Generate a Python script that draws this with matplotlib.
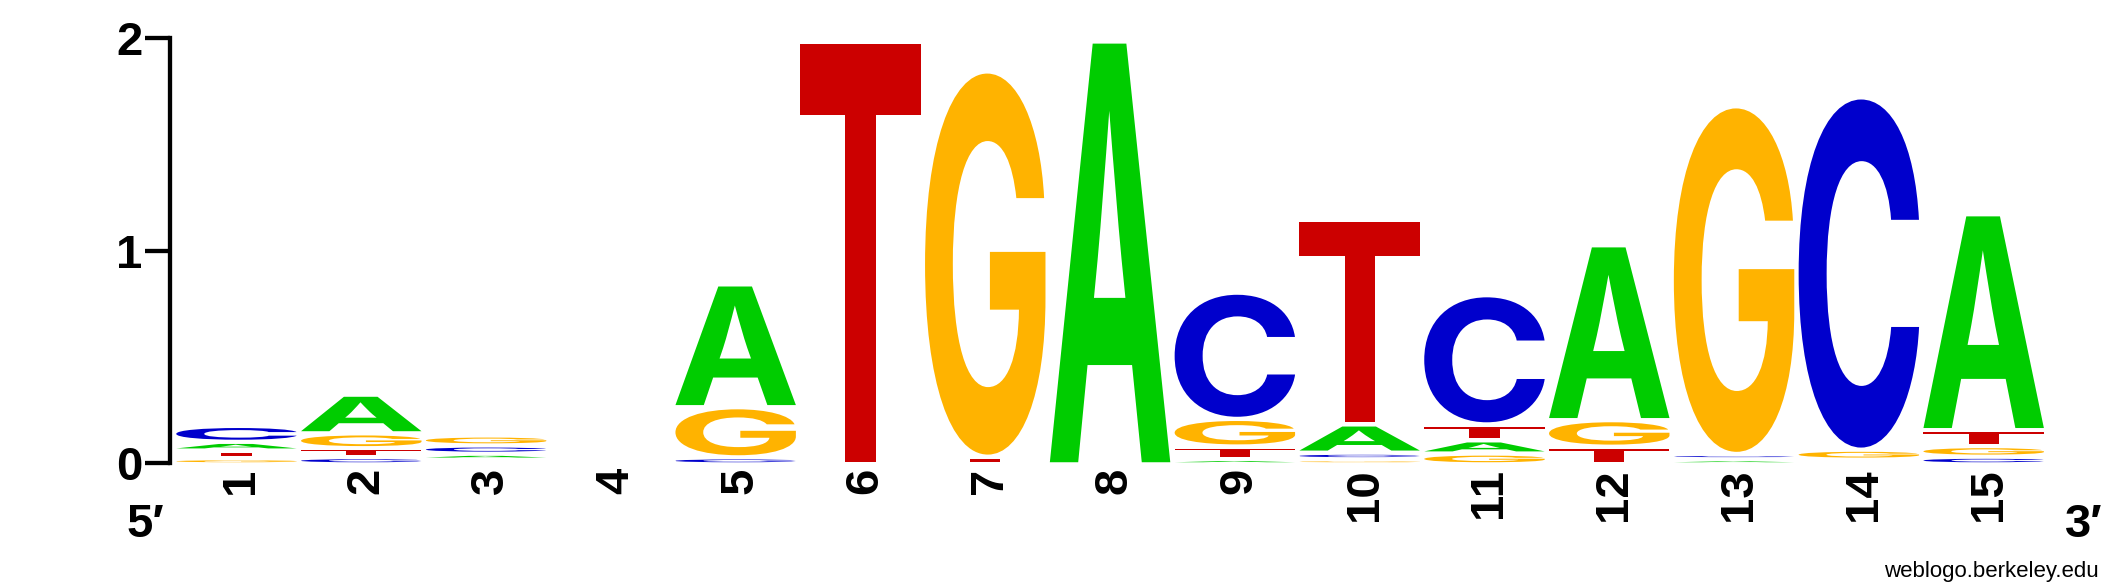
import matplotlib
matplotlib.use('Agg')
import matplotlib.pyplot as plt
from matplotlib.textpath import TextPath
from matplotlib.patches import PathPatch
from matplotlib.font_manager import FontProperties
from matplotlib.transforms import Affine2D, ScaledTranslation

# ---- data (information content in bits, per position) ----
positions = list(range(1, 16))
tick_labels = [str(p) for p in positions]
bits_A = [0.021, 0.162, 0.008, 0.0, 0.558, 0.0, 0.0, 1.970, 0.005, 0.113, 0.042, 0.803, 0.004, 0.0, 0.996]
bits_C = [0.055, 0.014, 0.019, 0.0, 0.013, 0.0, 0.0, 0.0, 0.574, 0.011, 0.588, 0.0, 0.005, 1.638, 0.016]
bits_G = [0.009, 0.050, 0.027, 0.0, 0.216, 0.0, 1.793, 0.0, 0.110, 0.004, 0.031, 0.105, 1.616, 0.027, 0.030]
bits_T = [0.016, 0.022, 0.002, 0.0, 0.0, 1.970, 0.016, 0.0, 0.039, 0.941, 0.055, 0.063, 0.0, 0.002, 0.055]
y_ticks = [0, 1, 2]

colors = {'A': '#00CC00', 'C': '#0000CC', 'G': '#FFB300', 'T': '#CC0000'}

W, H = 2125, 588
fig = plt.figure(figsize=(W / 100, H / 100), dpi=100)
x_left_px, x_right_px = 170, 2047
y_zero_px, y_two_px = 463.3, 38.3
ax = fig.add_axes([x_left_px / W, (H - y_zero_px) / H,
                   (x_right_px - x_left_px) / W, (y_zero_px - y_two_px) / H])
col_w_px = (x_right_px - 175) / 15.0
ax.set_xlim(0.5 - 5 / col_w_px, 15.5)
ax.set_ylim(0, 2)

fp = FontProperties(family='Inter', weight='bold')
glyphs = {}
for ch in 'ACGT':
    p = TextPath((0, 0), ch, size=1, prop=fp)
    glyphs[ch] = (p, p.get_extents())


def draw_letter(ch, x0, x1, y0, y1):
    p, ext = glyphs[ch]
    tr = (Affine2D().translate(-ext.x0, -ext.y0)
          .scale((x1 - x0) / ext.width, (y1 - y0) / ext.height)
          .translate(x0, y0))
    ax.add_patch(PathPatch(tr.transform_path(p), facecolor=colors[ch],
                           edgecolor='none', lw=0, clip_on=False))


gap = 0.02
base = 0.005
letter_w = 0.965
for i, pos in enumerate(positions):
    items = [('A', bits_A[i]), ('C', bits_C[i]), ('G', bits_G[i]), ('T', bits_T[i])]
    items = [it for it in items if it[1] > 0]
    items.sort(key=lambda t: t[1])
    y = base
    for ch, h in items:
        draw_letter(ch, pos - 0.49, pos - 0.49 + letter_w, y, y + h)
        y += h + gap

# axes styling
for s in ['top', 'right', 'bottom']:
    ax.spines[s].set_visible(False)
ax.spines['left'].set_linewidth(3.1)
ax.set_yticks(y_ticks)
ax.set_yticklabels([str(v) for v in y_ticks], fontsize=34, fontweight='bold',
                   family=['Liberation Sans', 'DejaVu Sans'])
ax.tick_params(axis='y', direction='out', length=18, width=3.1, pad=1.7)
ax.set_xticks(positions)
ax.set_xticklabels(tick_labels, fontsize=34, fontweight='bold', rotation=90,
                   family=['Liberation Sans', 'DejaVu Sans'])
ax.tick_params(axis='x', length=0, pad=3.4)
for lab in ax.get_xticklabels():
    lab.set_transform(lab.get_transform() + ScaledTranslation(4 / 100, 0, fig.dpi_scale_trans))

fig.text(127 / W, (H - 537) / H, '5\u2032', fontsize=34, fontweight='bold',
         family=['Liberation Sans', 'DejaVu Sans'], ha='left', va='baseline')
fig.text(2065 / W, (H - 537) / H, '3\u2032', fontsize=34, fontweight='bold',
         family=['Liberation Sans', 'DejaVu Sans'], ha='left', va='baseline')
fig.text(2099 / W, (H - 576.7) / H, 'weblogo.berkeley.edu', fontsize=16,
         family=['Liberation Sans', 'DejaVu Sans'], ha='right', va='baseline')

fig.savefig('out.png', dpi=100, facecolor='white')
